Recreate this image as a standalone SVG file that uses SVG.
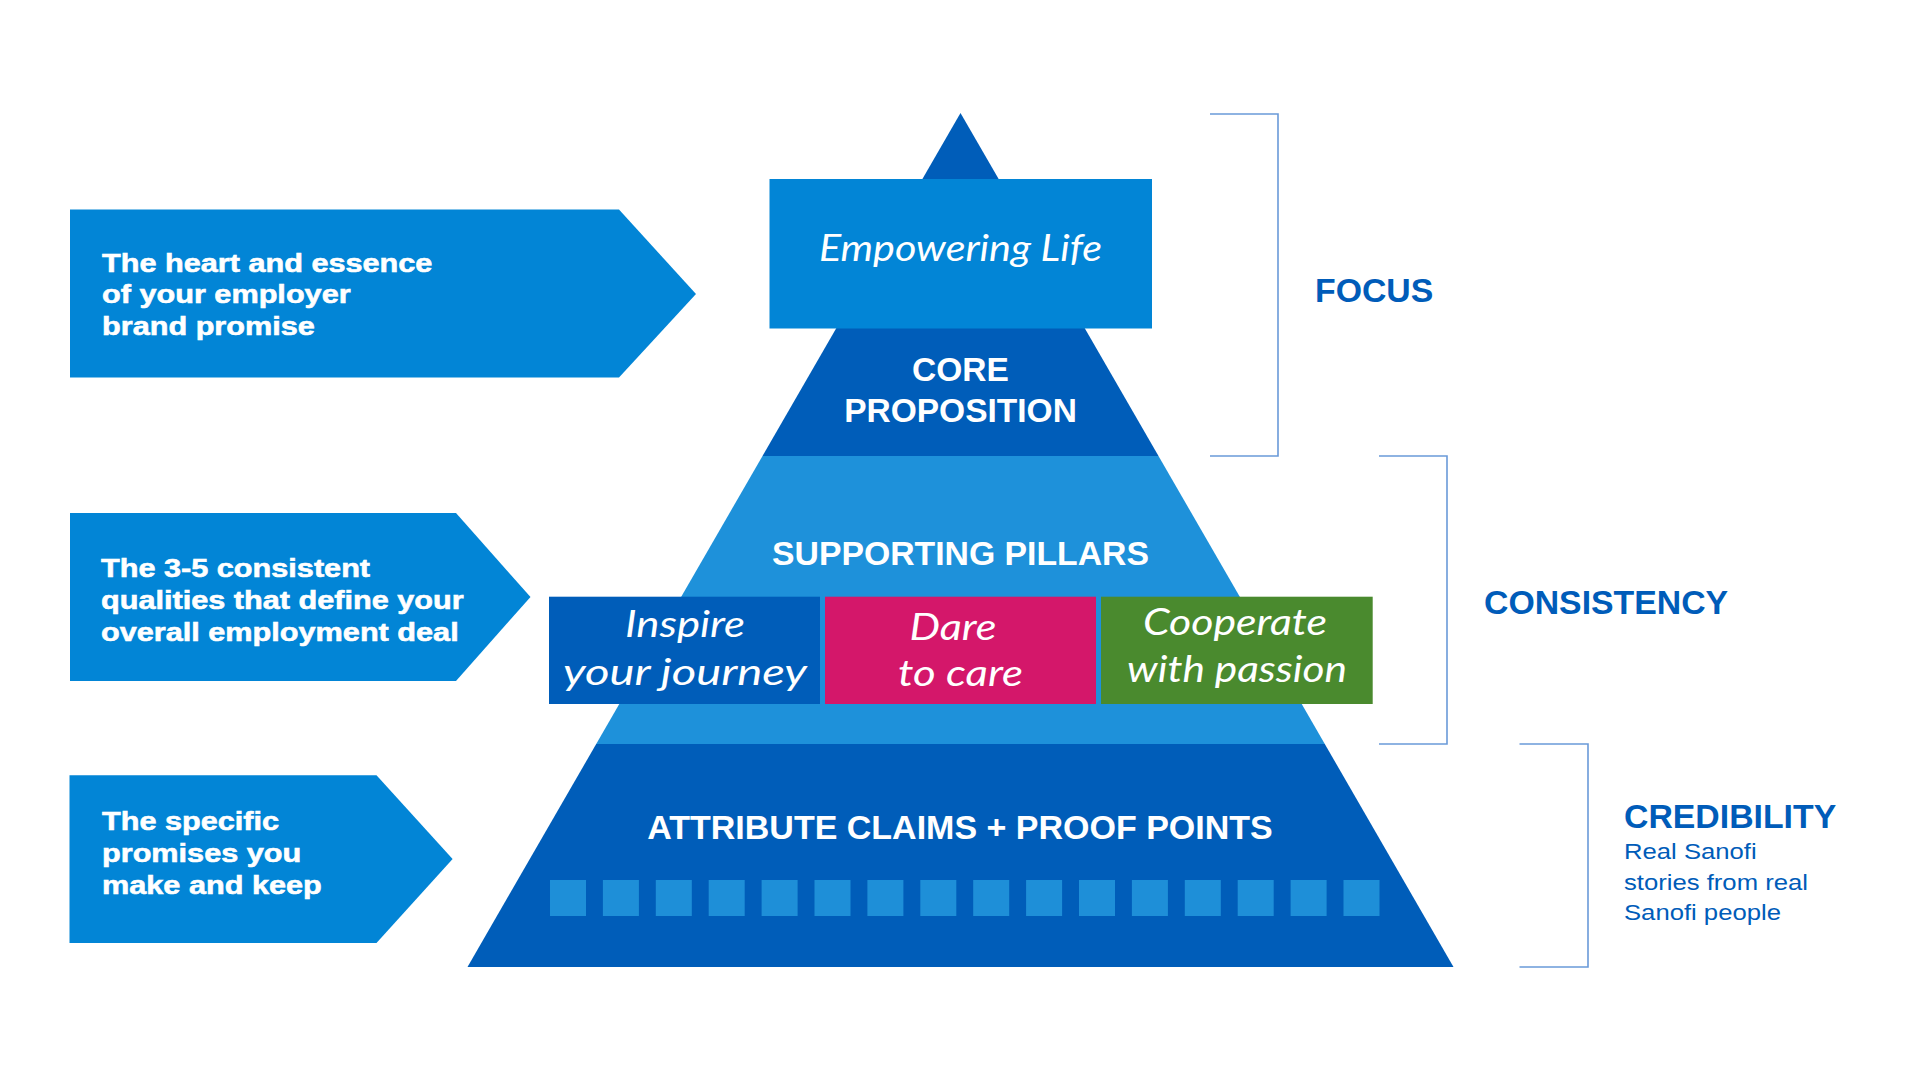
<svg xmlns="http://www.w3.org/2000/svg" width="1921" height="1081" viewBox="0 0 1921 1081">
<style>
.arrow{fill:#0285D6}
.dark{fill:#005DB9}
.mid{fill:#1E91DA}
.sq{fill:#1E8FD8}
.lbl{font-family:"Liberation Sans",Arial,sans-serif;font-weight:bold;fill:#fff}
.side{font-family:"Liberation Sans",Arial,sans-serif;font-weight:bold;font-size:26.5px;fill:#fff;stroke:#fff;stroke-width:0.6}
.script{font-family:Lato,"Noto Sans",sans-serif;font-style:italic;fill:#fff;text-anchor:middle}
.head{font-family:"Liberation Sans",Arial,sans-serif;font-weight:bold;font-size:33.8px;fill:#005CB9}
.sub{font-family:"Liberation Sans",Arial,sans-serif;font-size:22px;fill:#005CB9}
.br{fill:none;stroke:#6A9AD9;stroke-width:1.6}
</style>
<rect width="1921" height="1081" fill="#fff"/>

<g id="pyramid">
<polygon class="dark" points="960.5,113 1158.5,456 762.5,456"/>
<polygon class="mid" points="762.5,456 1158.5,456 1324.8,744 596.2,744"/>
<polygon class="dark" points="596.2,744 1324.8,744 1453.5,967 467.5,967"/>
</g>

<g id="arrow-focus">
<polygon class="arrow" points="70,209.5 619,209.5 696,294 619,377.5 70,377.5"/>
<g transform="translate(102 0) scale(1.157 1)">
<text class="side" x="0" y="271.7">The heart and essence</text>
<text class="side" x="0" y="303.3">of your employer</text>
<text class="side" x="0" y="335">brand promise</text>
</g>
</g>

<g id="arrow-consistency">
<polygon class="arrow" points="70,513 456,513 530.5,597 456,681 70,681"/>
<g transform="translate(101 0) scale(1.157 1)">
<text class="side" x="0" y="577">The 3-5 consistent</text>
<text class="side" x="0" y="609">qualities that define your</text>
<text class="side" x="0" y="641">overall employment deal</text>
</g>
</g>

<g id="arrow-credibility">
<polygon class="arrow" points="69.5,775.3 376.5,775.3 452.6,859 376.5,943 69.5,943"/>
<g transform="translate(102 0) scale(1.157 1)">
<text class="side" x="0" y="830">The specific</text>
<text class="side" x="0" y="861.7">promises you</text>
<text class="side" x="0" y="894">make and keep</text>
</g>
</g>

<g id="empowering-life">
<rect class="arrow" x="769.5" y="179" width="382.5" height="149.5"/>
<text class="script" x="960.5" y="261" font-size="36" textLength="283" lengthAdjust="spacingAndGlyphs">Empowering Life</text>
</g>

<g id="core-proposition">
<text class="lbl" x="960.5" y="381" font-size="33.5" text-anchor="middle">CORE</text>
<text class="lbl" x="960.5" y="422" font-size="33.5" text-anchor="middle">PROPOSITION</text>
</g>

<g id="supporting-pillars">
<text class="lbl" x="960.5" y="565" font-size="32.5" text-anchor="middle" textLength="377" lengthAdjust="spacingAndGlyphs">SUPPORTING PILLARS</text>
</g>

<g id="pillar-inspire">
<rect x="549" y="596.7" width="271" height="107.3" fill="#005DB9"/>
<text class="script" x="685" y="636.7" font-size="36" textLength="120" lengthAdjust="spacingAndGlyphs">Inspire</text>
<text class="script" x="685" y="685" font-size="36" textLength="244" lengthAdjust="spacingAndGlyphs">your journey</text>
</g>

<g id="pillar-dare">
<rect x="825" y="596.7" width="271" height="107.3" fill="#D4176A"/>
<text class="script" x="953" y="640" font-size="36" textLength="87" lengthAdjust="spacingAndGlyphs">Dare</text>
<text class="script" x="960.5" y="686" font-size="36" textLength="125" lengthAdjust="spacingAndGlyphs">to care</text>
</g>

<g id="pillar-cooperate">
<rect x="1101" y="596.7" width="271.7" height="107.3" fill="#4A8A2E"/>
<text class="script" x="1235" y="635" font-size="36" textLength="184" lengthAdjust="spacingAndGlyphs">Cooperate</text>
<text class="script" x="1237" y="681.7" font-size="36" textLength="220" lengthAdjust="spacingAndGlyphs">with passion</text>
</g>

<g id="attribute-claims">
<text class="lbl" x="960" y="839" font-size="34" text-anchor="middle">ATTRIBUTE CLAIMS + PROOF POINTS</text>
<rect class="sq" x="550" y="880" width="36" height="36"/>
<rect class="sq" x="602.9" y="880" width="36" height="36"/>
<rect class="sq" x="655.8" y="880" width="36" height="36"/>
<rect class="sq" x="708.7" y="880" width="36" height="36"/>
<rect class="sq" x="761.6" y="880" width="36" height="36"/>
<rect class="sq" x="814.5" y="880" width="36" height="36"/>
<rect class="sq" x="867.4" y="880" width="36" height="36"/>
<rect class="sq" x="920.3" y="880" width="36" height="36"/>
<rect class="sq" x="973.2" y="880" width="36" height="36"/>
<rect class="sq" x="1026.1" y="880" width="36" height="36"/>
<rect class="sq" x="1079" y="880" width="36" height="36"/>
<rect class="sq" x="1131.9" y="880" width="36" height="36"/>
<rect class="sq" x="1184.8" y="880" width="36" height="36"/>
<rect class="sq" x="1237.7" y="880" width="36" height="36"/>
<rect class="sq" x="1290.6" y="880" width="36" height="36"/>
<rect class="sq" x="1343.5" y="880" width="36" height="36"/>
</g>

<g id="connectors">
<polyline class="br" points="1210,114 1278,114 1278,456 1210,456"/>
<polyline class="br" points="1379,456 1447,456 1447,744 1379,744"/>
<polyline class="br" points="1519.5,744 1588,744 1588,967 1519.5,967"/>
</g>

<g id="label-focus">
<text class="head" x="1315" y="302.3">FOCUS</text>
</g>
<g id="label-consistency">
<text class="head" x="1484" y="614">CONSISTENCY</text>
</g>
<g id="label-credibility">
<text class="head" x="1624" y="827.7">CREDIBILITY</text>
<g transform="translate(1624 0) scale(1.167 1)">
<text class="sub" x="0" y="859">Real Sanofi</text>
<text class="sub" x="0" y="890">stories from real</text>
<text class="sub" x="0" y="920">Sanofi people</text>
</g>
</g>
</svg>
